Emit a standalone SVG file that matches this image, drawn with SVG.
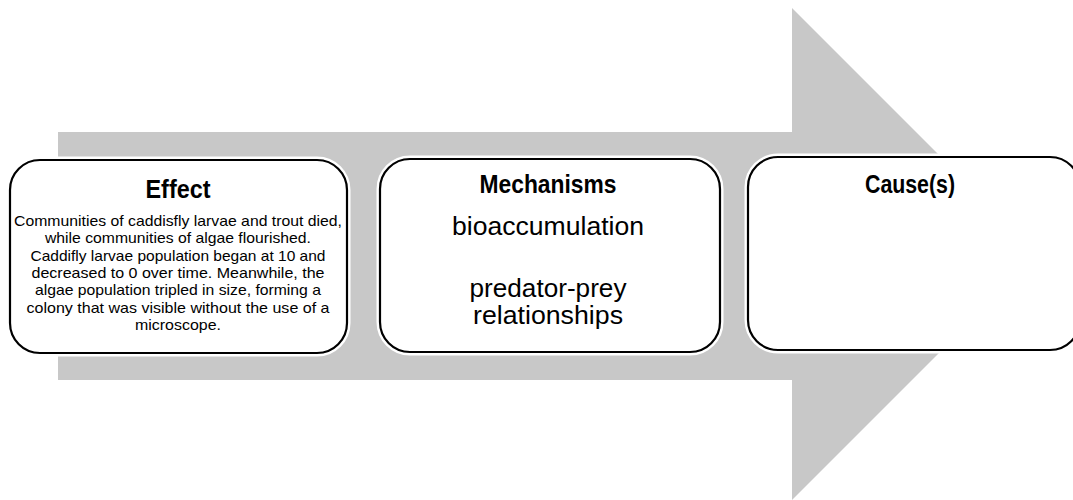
<svg xmlns="http://www.w3.org/2000/svg" width="1073" height="500" viewBox="0 0 1073 500">
<style>
.box{fill:#fff;stroke:#000;stroke-width:2.2}
.halo{fill:none;stroke:#fff;stroke-width:7}
.title{font-family:"Liberation Sans",Arial,sans-serif;font-weight:bold;font-size:25px;text-anchor:middle;fill:#000}
.small{font-family:"Liberation Sans",Arial,sans-serif;font-size:14.8px;text-anchor:middle;fill:#000}
.big{font-family:"Liberation Sans",Arial,sans-serif;font-size:25.5px;text-anchor:middle;fill:#000}
</style>
<rect width="1073" height="500" fill="#fff"/>
<g id="arrow">
<polygon points="58,132 792,132 792,8 1038,254 792,500 792,380 58,380" fill="#c8c8c8"/>
</g>
<g id="connectors"></g>
<g id="effect">
<rect class="halo" x="10" y="160" width="337" height="193" rx="30"/>
<rect class="box" x="10" y="160" width="337" height="193" rx="30"/>
<text class="title" x="178" y="198" textLength="65" lengthAdjust="spacingAndGlyphs">Effect</text>
<text class="small" x="178" y="226" textLength="328" lengthAdjust="spacingAndGlyphs">Communities of caddisfly larvae and trout died,</text>
<text class="small" x="178" y="243" textLength="266" lengthAdjust="spacingAndGlyphs">while communities of algae flourished.</text>
<text class="small" x="178" y="261" textLength="295" lengthAdjust="spacingAndGlyphs">Caddifly larvae population began at 10 and</text>
<text class="small" x="178" y="278" textLength="293" lengthAdjust="spacingAndGlyphs">decreased to 0 over time. Meanwhile, the</text>
<text class="small" x="178" y="295" textLength="286" lengthAdjust="spacingAndGlyphs">algae population tripled in size, forming a</text>
<text class="small" x="178" y="313" textLength="303" lengthAdjust="spacingAndGlyphs">colony that was visible without the use of a</text>
<text class="small" x="178" y="330" textLength="86" lengthAdjust="spacingAndGlyphs">microscope.</text>
</g>
<g id="mechanisms">
<rect class="halo" x="380" y="159" width="340" height="193" rx="30"/>
<rect class="box" x="380" y="159" width="340" height="193" rx="30"/>
<text class="title" x="548" y="193" textLength="137" lengthAdjust="spacingAndGlyphs">Mechanisms</text>
<text class="big" x="548" y="235" textLength="192" lengthAdjust="spacingAndGlyphs">bioaccumulation</text>
<text class="big" x="548" y="297" textLength="157" lengthAdjust="spacingAndGlyphs">predator-prey</text>
<text class="big" x="548" y="324" textLength="150" lengthAdjust="spacingAndGlyphs">relationships</text>
</g>
<g id="causes">
<rect class="halo" x="748" y="157" width="332" height="193" rx="30"/>
<rect class="box" x="748" y="157" width="332" height="193" rx="30"/>
<text class="title" x="910" y="193" textLength="90" lengthAdjust="spacingAndGlyphs">Cause(s)</text>
</g>
</svg>
